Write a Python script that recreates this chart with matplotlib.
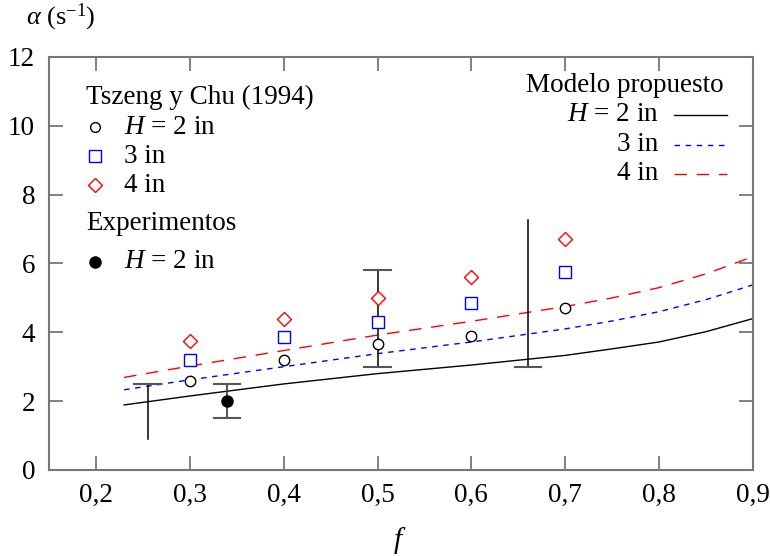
import matplotlib
matplotlib.use("Agg")
import matplotlib.pyplot as plt
from matplotlib.ticker import FuncFormatter

plt.rcParams["font.family"] = "Liberation Serif"
plt.rcParams["mathtext.fontset"] = "custom"
plt.rcParams["mathtext.rm"] = "Liberation Serif"
plt.rcParams["mathtext.it"] = "Liberation Serif:italic"

# Tszeng y Chu (1994) data
f_tc = [0.3, 0.4, 0.5, 0.6, 0.7]
alpha_h2 = [2.6, 3.2, 3.65, 3.9, 4.7]
alpha_h3 = [3.2, 3.85, 4.3, 4.85, 5.75]
alpha_h4 = [3.75, 4.4, 5.0, 5.6, 6.7]

# Modelo propuesto
f_model = [0.23, 0.3, 0.4, 0.5, 0.6, 0.7, 0.75, 0.8, 0.85, 0.9]
model_h2 = [1.89, 2.15, 2.5, 2.8, 3.05, 3.33, 3.52, 3.72, 4.02, 4.4]
model_h3 = [2.33, 2.62, 3.0, 3.38, 3.72, 4.1, 4.33, 4.6, 4.95, 5.38]
model_h4 = [2.69, 3.02, 3.47, 3.92, 4.32, 4.75, 5.0, 5.3, 5.7, 6.2]

# Experimentos (error bars)
f_exp = 0.34
alpha_exp = 2.0
exp_lo, exp_hi = 1.5, 2.5
bars_f = [0.255, 0.5, 0.66]
bars_lo = [0.9, 3.0, 3.0]
bars_hi = [2.5, 5.8, 7.25]
cap_top = [True, True, False]
cap_bot = [False, True, True]

fig = plt.figure(figsize=(7.7, 5.56), dpi=100)
ax = fig.add_axes([0.0636, 0.1547, 0.9144, 0.7428])

# model curves
ax.plot(f_model, model_h2, color="black", lw=1.0)
ax.plot(f_model, model_h3, color="blue", lw=1.0, dashes=(4, 4))
ax.plot(f_model, model_h4, color="red", lw=1.0, dashes=(9, 7))

# error bars
cap = 0.014
for x, lo, hi, ct, cb in zip(bars_f, bars_lo, bars_hi, cap_top, cap_bot):
    ax.plot([x, x], [lo, hi], color="black", lw=1.1)
    if ct:
        ax.plot([x - cap, x + cap], [hi, hi], color="#555555", lw=1.5)
    if cb:
        ax.plot([x - cap, x + cap], [lo, lo], color="#555555", lw=1.5)
ax.plot([f_exp, f_exp], [exp_lo, exp_hi], color="#444444", lw=1.3)
ax.plot([f_exp - cap, f_exp + cap], [exp_lo, exp_lo], color="#555555", lw=1.5)
ax.plot([f_exp - cap, f_exp + cap], [exp_hi, exp_hi], color="#555555", lw=1.5)
ax.plot([f_exp], [alpha_exp], "o", color="black", ms=8)

# Tszeng y Chu points
ax.plot(f_tc, alpha_h2, "o", mfc="white", mec="black", ms=7.5, mew=1.0)
ax.plot(f_tc, alpha_h3, "s", mfc="white", mec="blue", ms=8, mew=1.0)
ax.plot(f_tc, alpha_h4, "D", mfc="white", mec="red", ms=7.5, mew=1.0)

ax.set_xlim(0.15, 0.9)
ax.set_ylim(0, 12)
ax.set_xticks([0.2, 0.3, 0.4, 0.5, 0.6, 0.7, 0.8, 0.9])
ax.set_yticks([0, 2, 4, 6, 8, 10, 12])
ax.xaxis.set_major_formatter(FuncFormatter(lambda v, p: f"{v:.1f}".replace(".", ",")))
ax.tick_params(direction="in", length=10, width=1.3, color="#777777",
               labelsize=19.5, top=True, right=True, pad=9)
ax.tick_params(axis="y", pad=10)
for s in ax.spines.values():
    s.set_color("#777777")
    s.set_linewidth(1.5)

fig.text(0.034, 0.968, r"$\alpha$ (s$^{-1}$)", fontsize=19, va="center", ha="left")
fig.text(0.519, 0.027, r"$f$", fontsize=21, va="center", ha="center")

# left legend
fs = 19.5
tr = ax.transAxes
ax.text(0.053, 0.903, "Tszeng y Chu (1994)", transform=tr, fontsize=fs, va="center")
rows = [0.830, 0.760, 0.690]
ax.plot([0.066], [rows[0]], "o", mfc="white", mec="black", ms=7, transform=tr)
ax.plot([0.066], [rows[1]], "s", mfc="white", mec="blue", ms=8, transform=tr)
ax.plot([0.066], [rows[2]], "D", mfc="white", mec="red", ms=7.5, transform=tr)
ax.text(0.107, rows[0], r"$H$ = 2 in", transform=tr, fontsize=fs, va="center")
ax.text(0.107, rows[1], "3 in", transform=tr, fontsize=fs, va="center")
ax.text(0.107, rows[2], "4 in", transform=tr, fontsize=fs, va="center")
ax.text(0.053, 0.596, "Experimentos", transform=tr, fontsize=fs, va="center")
ax.plot([0.066], [0.504], "o", color="black", ms=8, transform=tr)
ax.text(0.107, 0.504, r"$H$ = 2 in", transform=tr, fontsize=fs, va="center")

# right legend
ax.text(0.958, 0.930, "Modelo propuesto", transform=tr, fontsize=fs, va="center", ha="right")
rrows = [0.860, 0.787, 0.717]
ax.text(0.866, rrows[0], r"$H$ = 2 in", transform=tr, fontsize=fs, va="center", ha="right")
ax.text(0.866, rrows[1], "3 in", transform=tr, fontsize=fs, va="center", ha="right")
ax.text(0.866, rrows[2], "4 in", transform=tr, fontsize=fs, va="center", ha="right")
ax.plot([0.888, 0.963], [rrows[0]] * 2, color="black", lw=1.0, transform=tr)
ax.plot([0.888, 0.963], [rrows[1]] * 2, color="blue", lw=1.0, dashes=(4, 4), transform=tr)
ax.plot([0.888, 0.963], [rrows[2]] * 2, color="red", lw=1.0, dashes=(9, 7), transform=tr)

fig.savefig("out.png", dpi=100)
